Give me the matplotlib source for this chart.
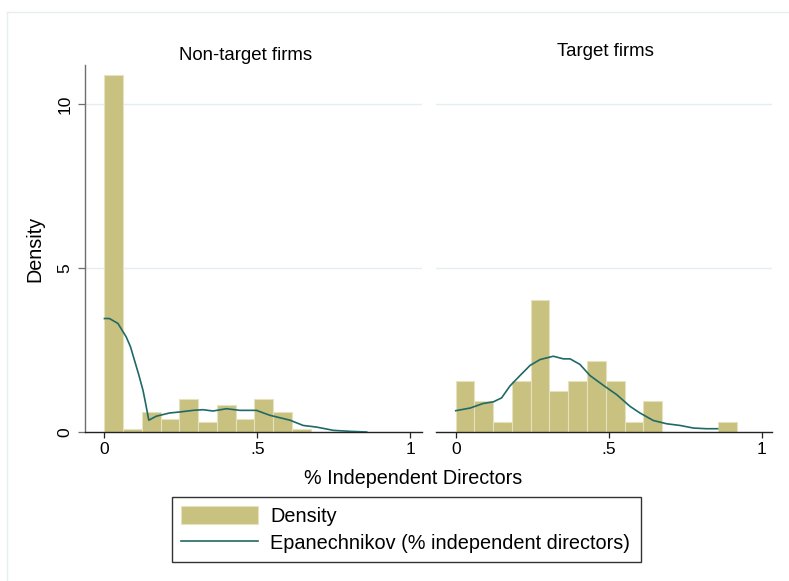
import numpy as np
import matplotlib
matplotlib.use("Agg")
import matplotlib.pyplot as plt
from matplotlib.patches import Patch, Rectangle
from matplotlib.lines import Line2D

plt.rcParams['font.family'] = ['Liberation Sans', 'DejaVu Sans']

# Histogram: common bin width, bins start at 0
bin_width = 0.0613
nontarget_density = [10.9, 0.1, 0.61, 0.41, 1.0, 0.31, 0.81, 0.41, 1.0, 0.61, 0.1]
target_density = [1.57, 0.94, 0.31, 1.57, 4.03, 1.24, 1.57, 2.18, 1.57, 0.31,
                  0.94, 0.0, 0.0, 0.0, 0.31]

# Epanechnikov kernel density estimates
nontarget_kde_x = [0, 0.016, 0.044, 0.071, 0.085, 0.098, 0.112, 0.126, 0.135, 0.145,
                   0.169, 0.213, 0.246, 0.29, 0.322, 0.355, 0.399, 0.443, 0.497, 0.541,
                   0.607, 0.65, 0.694, 0.749, 0.803, 0.858]
nontarget_kde_y = [3.46, 3.46, 3.31, 2.9, 2.6, 2.19, 1.75, 1.27, 0.85, 0.36,
                   0.48, 0.58, 0.61, 0.66, 0.68, 0.64, 0.71, 0.66, 0.66, 0.51,
                   0.36, 0.2, 0.15, 0.05, 0.02, 0.0]
target_kde_x = [0, 0.047, 0.09, 0.123, 0.15, 0.177, 0.21, 0.243, 0.276, 0.319,
                0.352, 0.374, 0.406, 0.439, 0.483, 0.526, 0.57, 0.602, 0.646, 0.69,
                0.733, 0.777, 0.82, 0.856]
target_kde_y = [0.65, 0.73, 0.87, 0.92, 1.04, 1.40, 1.72, 2.03, 2.21, 2.31,
                2.23, 2.23, 2.06, 1.72, 1.42, 1.14, 0.78, 0.58, 0.35, 0.25,
                0.2, 0.12, 0.10, 0.10]

panel_titles = ["Non-target firms", "Target firms"]
x_ticks = [0, 0.5, 1]
x_ticklabels = ["0", ".5", "1"]
y_ticks = [0, 5, 10]
y_ticklabels = ["0", "5", "10"]

BAR_COLOR = "#c8c180"
BAR_EDGE = "#e6e2bd"
LINE_COLOR = "#1f6966"
GRID_COLOR = "#e4eef0"

W, H = 789, 581
fig = plt.figure(figsize=(W / 100, H / 100), dpi=100)
fig.patch.set_facecolor("white")


def px_axes(x0, x1, y_top, y_bot):
    return fig.add_axes([x0 / W, 1 - y_bot / H, (x1 - x0) / W, (y_bot - y_top) / H])


ax_l = px_axes(85, 421.7, 65, 432)
ax_r = px_axes(435.7, 772, 65, 432)

panels = [
    (ax_l, nontarget_density, nontarget_kde_x, nontarget_kde_y, (-0.0638, 1.038)),
    (ax_r, target_density, target_kde_x, target_kde_y, (-0.0654, 1.0337)),
]

for i, (ax, dens, kx, ky, xl) in enumerate(panels):
    edges = np.arange(len(dens)) * bin_width
    ax.bar(edges, dens, width=bin_width, align="edge", color=BAR_COLOR,
           edgecolor=BAR_EDGE, linewidth=0.8, zorder=2)
    ax.plot(kx, ky, color=LINE_COLOR, linewidth=1.2, zorder=3)
    ax.set_xlim(*xl)
    ax.set_ylim(0, 11.19)
    for g in [5, 10]:
        ax.axhline(g, color=GRID_COLOR, linewidth=1.0, zorder=1)
    for s in ["top", "right"]:
        ax.spines[s].set_visible(False)
    ax.spines["bottom"].set_color("#222222")
    ax.spines["bottom"].set_linewidth(1.0)
    ax.set_xticks(x_ticks)
    ax.set_xticklabels(x_ticklabels)
    ax.tick_params(axis="x", length=4.5, width=0.9, color="#222222",
                   labelsize=12.5, pad=2.5)
    if i == 0:
        ax.spines["left"].set_color("#6e6e6e")
        ax.spines["left"].set_linewidth(1.0)
        ax.set_yticks(y_ticks)
        ax.set_yticklabels(y_ticklabels, rotation=90, va="center")
        ax.tick_params(axis="y", length=5, width=0.9, color="#6e6e6e",
                       labelsize=12.5, pad=4)
    else:
        ax.spines["left"].set_visible(False)
        ax.set_yticks([])

fig.text(246 / W, 1 - 60 / H, panel_titles[0], ha="center", va="baseline", fontsize=13.4)
fig.text(605 / W, 1 - 55.7 / H, panel_titles[1], ha="center", va="baseline", fontsize=13.4)

fig.text(413 / W, 1 - 484.3 / H, "% Independent Directors", ha="center",
         va="baseline", fontsize=14.2)
fig.text(35 / W, 1 - 249 / H, "Density", ha="center", va="center",
         rotation=90, fontsize=14.2)

# legend: entries plus a separately drawn frame
handles = [Patch(facecolor=BAR_COLOR, edgecolor=BAR_EDGE, linewidth=0.8),
           Line2D([0], [0], color=LINE_COLOR, linewidth=1.2)]
leg = fig.legend(handles, ["Density", "Epanechnikov (% independent directors)"],
                 loc="upper left", bbox_to_anchor=(172 / W, 1 - 497 / H),
                 fontsize=14.3, frameon=False, borderpad=0.45,
                 handlelength=3.9, handleheight=1.05, handletextpad=0.6,
                 labelspacing=0.35, borderaxespad=0)
fig.add_artist(Rectangle((172 / W, 1 - 562 / H), (641 - 172) / W, (562 - 497) / H,
                         transform=fig.transFigure, facecolor="none",
                         edgecolor="#333333", linewidth=1.0))

# faint outer frame of the graph region
fig.add_artist(Line2D([7 / W, 7 / W], [0, 1 - 12 / H], transform=fig.transFigure,
                      color="#e8eef0", linewidth=1.0))
fig.add_artist(Line2D([7 / W, 1], [1 - 12 / H, 1 - 12 / H], transform=fig.transFigure,
                      color="#e8eef0", linewidth=1.0))

fig.savefig("out.png", dpi=100)
